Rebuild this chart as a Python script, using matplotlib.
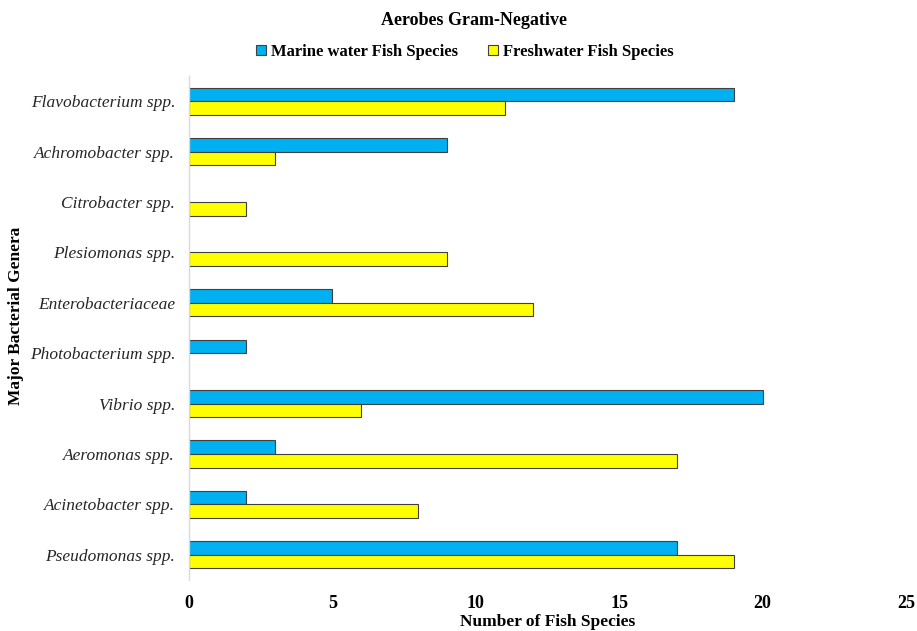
import numpy as np
import matplotlib.pyplot as plt
from matplotlib.patches import Patch

# data, bottom to top as drawn
genera = ['Pseudomonas spp.', 'Acinetobacter spp.', 'Aeromonas spp.', 'Vibrio spp.',
          'Photobacterium spp.', 'Enterobacteriaceae', 'Plesiomonas spp.',
          'Citrobacter spp.', 'Achromobacter spp.', 'Flavobacterium spp.']
marine = [17, 2, 3, 20, 2, 5, 0, 0, 9, 19]
freshwater = [19, 8, 17, 6, 0, 12, 9, 2, 3, 11]
x_ticks = [0, 5, 10, 15, 20, 25]

blue = '#00B0F0'
yellow = '#FFFF00'
edge = '#404040'

plt.rcParams['font.family'] = ['Liberation Serif', 'DejaVu Serif']

fig = plt.figure(figsize=9.17 * np.array([1, 631 / 917]), dpi=100)
ax = fig.add_axes([0.2061, 0.0808, 0.782, 0.7987])

y = np.arange(len(genera))
h = 0.27
ax.barh(y + h / 2, marine, height=h, color=blue,
        edgecolor=[edge if v > 0 else 'none' for v in marine], linewidth=0.8)
ax.barh(y - h / 2, freshwater, height=h, color=yellow,
        edgecolor=[edge if v > 0 else 'none' for v in freshwater], linewidth=0.8)

ax.set_xlim(0, 25)
ax.set_ylim(-0.5, len(genera) - 0.5)
ax.set_xticks(x_ticks)
ax.set_xticklabels([str(t) for t in x_ticks], fontsize=13, fontweight='bold')
ax.set_yticks(y)
ax.set_yticklabels(genera, fontsize=12.5, style='italic', color='#262626')
ax.tick_params(length=0)
ax.tick_params(axis='x', pad=11)
ax.tick_params(axis='y', pad=10)

for s in ['top', 'right', 'bottom']:
    ax.spines[s].set_visible(False)
ax.spines['left'].set_color('#D9D9D9')
ax.spines['left'].set_linewidth(1)

ax.set_xlabel('Number of Fish Species', fontsize=12.5, fontweight='bold', labelpad=1)
fig.text(0.017, 0.5, 'Major Bacterial Genera', rotation=90, fontsize=12.5,
         fontweight='bold', ha='center', va='center')

fig.text(0.517, 0.968, 'Aerobes Gram-Negative', fontsize=13, fontweight='bold',
         ha='center', va='center')

handles = [Patch(facecolor=blue, edgecolor=edge, linewidth=0.8),
           Patch(facecolor=yellow, edgecolor=edge, linewidth=0.8)]
fig.legend(handles, ['Marine water Fish Species', 'Freshwater Fish Species'],
           loc='center', bbox_to_anchor=(0.507, 0.918), ncol=2, frameon=False,
           prop={'size': 12, 'weight': 'bold'}, handlelength=0.6, handleheight=0.6,
           handletextpad=0.3, columnspacing=1.8)

fig.savefig('out.png', dpi=100)
